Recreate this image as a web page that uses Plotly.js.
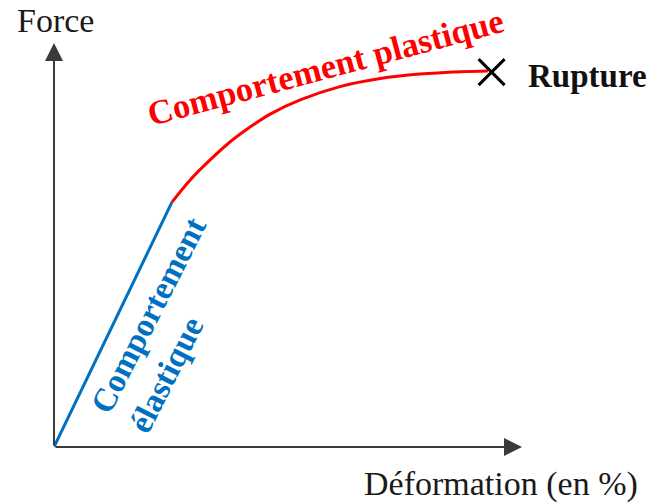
<!DOCTYPE html>
<html>
<head>
<meta charset="utf-8">
<script src="https://cdn.plot.ly/plotly-3.0.1.min.js"></script>
<style>html,body{margin:0;padding:0;background:#fff;}#chart{width:651px;height:503px;}</style>
</head>
<body>
<div id="chart"></div>
<script>
// Elastic segment (x: déformation, y: force), arbitrary units 0-100
const elasticX = [0, 25.2];
const elasticY = [0, 60.6];
// Plastic curve
const plasticX = [25.2, 29.1, 33.3, 37.6, 41.9, 46.2, 52.6, 61.1, 69.7, 78.2, 86.8, 92.7];
const plasticY = [60.6, 66.1, 71.0, 75.5, 79.2, 82.4, 85.9, 89.2, 91.2, 92.3, 92.9, 93.1];
// Rupture point
const ruptureX = [93.5];
const ruptureY = [92.8];
// Labels
const yLabel = "Force";
const xLabel = "Déformation (en %)";
const ruptureLabel = "Rupture";
const plasticLabel = "Comportement plastique";
const elasticLabel = "Comportement<br>élastique";

const L = 54, R = 522, T = 43, B = 447;
const W = 651, H = 503;
const px2p = p => (p - L) / (R - L);
const py2p = p => (B - p) / (B - T);

const blue = '#0070C0', red = '#FF0000', axisCol = '#3a3a3a';
const serif = '"Liberation Serif", "Times New Roman", serif';

const traces = [
  {x: elasticX, y: elasticY, mode: 'lines', line: {color: blue, width: 3}, hoverinfo: 'skip'},
  {x: plasticX, y: plasticY, mode: 'lines', line: {color: red, width: 3, shape: 'spline', smoothing: 1}, hoverinfo: 'skip'},
  {x: ruptureX, y: ruptureY, mode: 'markers', marker: {symbol: 'x-thin', size: 26, line: {color: '#000', width: 3}}, hoverinfo: 'skip', cliponaxis: false}
];

const annotations = [
  // axis arrows
  {x: 0, y: 100, xref: 'x', yref: 'y', ax: 0, ay: B - T, text: '', showarrow: true, arrowhead: 2, arrowsize: 1.8, arrowwidth: 2, arrowcolor: axisCol, standoff: 0},
  {x: 100, y: 0, xref: 'x', yref: 'y', ax: -(R - L), ay: 0, text: '', showarrow: true, arrowhead: 2, arrowsize: 1.8, arrowwidth: 2, arrowcolor: axisCol, standoff: 0},
  // texts
  {x: px2p(55), y: py2p(21), xref: 'paper', yref: 'paper', text: yLabel, showarrow: false, xanchor: 'center', yanchor: 'middle', font: {family: serif, size: 34, color: '#1a1a1a'}},
  {x: px2p(501), y: py2p(484), xref: 'paper', yref: 'paper', text: xLabel, showarrow: false, xanchor: 'center', yanchor: 'middle', font: {family: serif, size: 34, color: '#1a1a1a'}},
  {x: px2p(526), y: py2p(76), xref: 'paper', yref: 'paper', text: '<b>' + ruptureLabel + '</b>', showarrow: false, xanchor: 'left', yanchor: 'middle', font: {family: serif, size: 33, color: '#111'}},
  {x: px2p(325), y: py2p(67), xref: 'paper', yref: 'paper', text: '<b>' + plasticLabel + '</b>', showarrow: false, xanchor: 'center', yanchor: 'middle', textangle: -15, font: {family: serif, size: 34.5, color: red}},
  {x: px2p(167), y: py2p(325), xref: 'paper', yref: 'paper', text: '<b>' + elasticLabel + '</b>', showarrow: false, xanchor: 'center', yanchor: 'middle', align: 'left', textangle: -63, font: {family: serif, size: 33, color: blue}}
];

const axisCommon = {range: [0, 100], showgrid: false, zeroline: false, showline: false, showticklabels: false, ticks: '', fixedrange: true};

const layout = {
  width: W, height: H,
  margin: {l: L, r: W - R, t: T, b: H - B, pad: 0},
  paper_bgcolor: '#fff', plot_bgcolor: '#fff',
  showlegend: false,
  xaxis: Object.assign({}, axisCommon),
  yaxis: Object.assign({}, axisCommon),
  annotations: annotations
};

Plotly.newPlot('chart', traces, layout, {staticPlot: true, displayModeBar: false});
</script>
</body>
</html>
